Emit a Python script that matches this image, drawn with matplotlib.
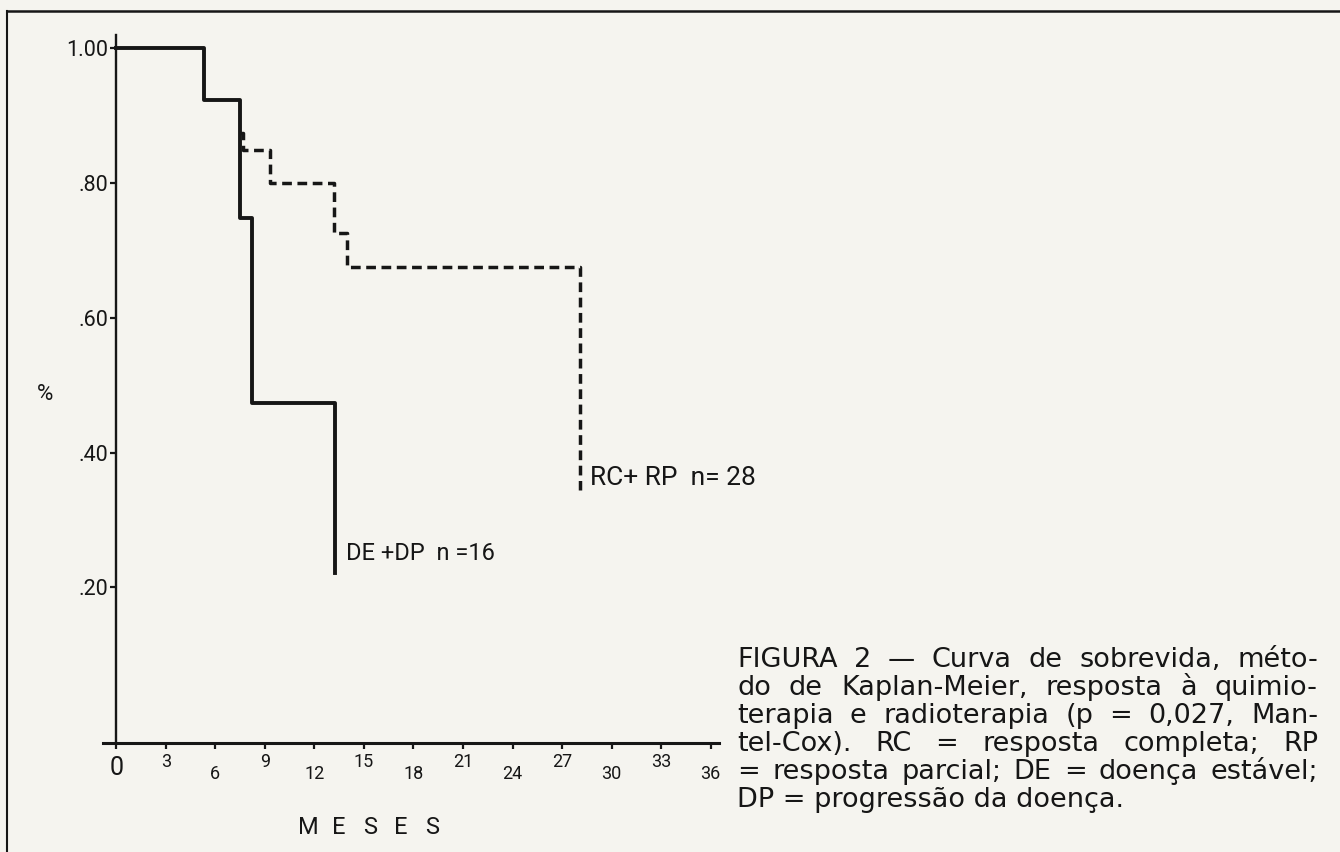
import numpy as np
import matplotlib.pyplot as plt

# curva DE + DP (linha continua)
meses_dedp = [0, 5.3, 7.5, 8.2, 13.25]
sobrev_dedp = [1.00, 0.923, 0.749, 0.473, 0.221]

# curva RC + RP (tracejada, a partir do ponto em que se separa)
meses_rcrp = [7.5, 7.7, 9.3, 13.2, 14.0, 28.1]
sobrev_rcrp = [0.875, 0.850, 0.800, 0.726, 0.675, 0.345]

xticks = [0, 3, 6, 9, 12, 15, 18, 21, 24, 27, 30, 33, 36]
yticks = [0.20, 0.40, 0.60, 0.80, 1.00]
ytick_labels = ['.20', '.40', '.60', '.80', '1.00']

caption_lines = [
    'FIGURA 2 \u2014 Curva de sobrevida, méto-',
    'do de Kaplan-Meier, resposta à quimio-',
    'terapia e radioterapia (p = 0,027, Man-',
    'tel-Cox). RC = resposta completa; RP',
    '= resposta parcial; DE = doença estável;',
    'DP = progressão da doença.',
]

bg = '#f5f4ef'
ink = '#161616'
plt.rcParams['font.family'] = ['Roboto', 'DejaVu Sans']

W, H = 1340, 852
def fx(px):
    return px / W
def fy(py):
    return 1 - py / H

fig = plt.figure(figsize=(13.4, 8.52), dpi=100, facecolor=bg)

# moldura da figura (topo e lado esquerdo)
fig.add_artist(plt.Line2D([fx(7), 1], [fy(11), fy(11)], color=ink, lw=1.8))
fig.add_artist(plt.Line2D([fx(7), fx(7)], [fy(11), 0], color=ink, lw=1.5))

ax = fig.add_axes([fx(103), fy(743), fx(719) - fx(103), fy(35) - fy(743)])
ax.set_facecolor('none')
ax.set_xlim(-0.8, 36.5)
ax.set_ylim(-0.031, 1.02)

ax.step(meses_dedp, sobrev_dedp, where='post', color=ink, lw=2.8)
ax.step(meses_rcrp, sobrev_rcrp, where='post', color=ink, lw=2.5,
        dashes=(2.8, 1.6))

for s in ['top', 'right']:
    ax.spines[s].set_visible(False)
ax.spines['left'].set_position(('data', 0))
ax.spines['left'].set_linewidth(1.7)
ax.spines['bottom'].set_linewidth(2.2)
ax.spines['left'].set_color(ink)
ax.spines['bottom'].set_color(ink)

ax.set_yticks(yticks)
ax.set_yticklabels(ytick_labels, fontsize=15.5, color=ink)
ax.tick_params(axis='y', direction='out', length=4, width=1.6, pad=2, colors=ink)

ax.set_xticks(xticks)
ax.set_xticklabels([''] * len(xticks))
ax.tick_params(axis='x', direction='out', length=4, width=1.6, colors=ink)

# rotulos do eixo x em alturas alternadas
for m in xticks:
    if m == 0:
        dy, fs = 25, 18
    elif (m // 3) % 2 == 1:
        dy, fs = 19, 13
    else:
        dy, fs = 31, 13
    ax.annotate(str(m), xy=(m, 0), xycoords=('data', 'axes fraction'),
                xytext=(0, -dy), textcoords='offset pixels',
                ha='center', va='center', fontsize=fs, color=ink)

fig.text(fx(45), fy(395), '%', fontsize=16, ha='center', va='center', color=ink)
for i, letra in enumerate('MESES'):
    fig.text(fx(308 + i * 31), fy(827), letra, fontsize=17,
             ha='center', va='center', color=ink)

ax.annotate('DE +DP  n =16', xy=(meses_dedp[-1], sobrev_dedp[-1]),
            xytext=(11, 20), textcoords='offset pixels',
            ha='left', va='center', fontsize=17, color=ink)
ax.annotate('RC+ RP  n= 28', xy=(meses_rcrp[-1], sobrev_rcrp[-1]),
            xytext=(10, 12), textcoords='offset pixels',
            ha='left', va='center', fontsize=19, color=ink)

# legenda justificada
cap_x0, cap_x1 = 737, 1318
cap_y0, cap_dy = 660, 28
cap_font = dict(family=['DejaVu Sans'], fontsize=19.5, color=ink, va='center')
r = fig.canvas.get_renderer()
for i, line in enumerate(caption_lines):
    y = fy(cap_y0 + i * cap_dy)
    if i == len(caption_lines) - 1:
        fig.text(fx(cap_x0), y, line, ha='left', **cap_font)
        continue
    words = line.split(' ')
    texts = [fig.text(0, y, w, ha='left', **cap_font) for w in words]
    widths = [t.get_window_extent(r).width for t in texts]
    gap = (cap_x1 - cap_x0 - sum(widths)) / (len(words) - 1)
    x = cap_x0
    for t, w in zip(texts, widths):
        t.set_x(fx(x))
        x += w + gap

fig.savefig('out.png', dpi=100, facecolor=bg)
